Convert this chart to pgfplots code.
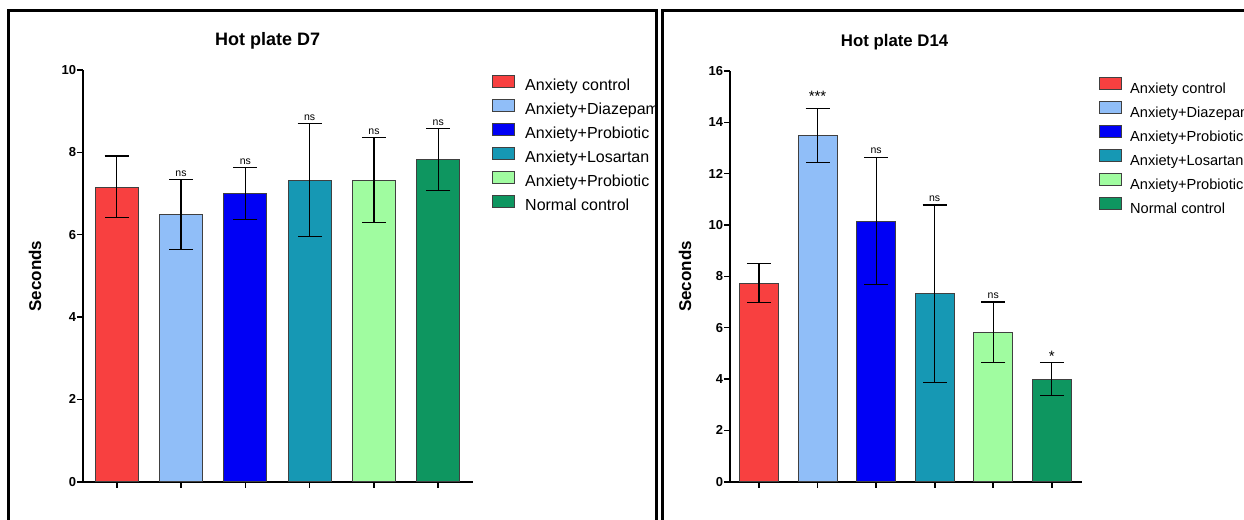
\documentclass[border=0pt]{standalone}
\usepackage{fontspec}
\setmainfont{Liberation Sans}
\usepackage{pgfplots}
\pgfplotsset{compat=1.18}
\definecolor{cRed}{RGB}{248,64,64}
\definecolor{cLBlue}{RGB}{144,190,248}
\definecolor{cBlue}{RGB}{0,0,245}
\definecolor{cTeal}{RGB}{22,152,180}
\definecolor{cLGreen}{RGB}{160,252,160}
\definecolor{cGreen}{RGB}{14,150,96}
\pgfplotsset{
  hpaxis/.style={
    scale only axis, clip=false,
    axis x line=bottom, axis y line=left,
    axis line style={line width=2bp, -},
    tick align=outside, major tick length=6bp,
    every tick/.style={black, line width=1.6bp},
    xtick={0,...,5}, xticklabels={},
    ymin=0,
    /pgf/number format/assume math mode=true,
    tick label style={font=\fontsize{13bp}{15bp}\selectfont\bfseries},
    yticklabel style={inner sep=0.8bp},
    ylabel={Seconds},
    ylabel style={font=\fontsize{17bp}{20bp}\selectfont\bfseries, anchor=center},
    title style={font=\fontsize{18bp}{21bp}\selectfont\bfseries, anchor=base, yshift=0pt},
    legend cell align=left,
    legend style={draw=none, fill=none, anchor=north west, inner sep=0pt, outer sep=0pt,
      font=\fontsize{16bp}{19bp}\selectfont,
      row sep=4bp, column sep=10.5bp,
      nodes={inner sep=0pt, text height=12bp, text depth=4bp}},
  },
  bx/.style={ybar, bar width=#1, draw=black!75, line width=0.8bp,
    legend image code/.code={\draw[##1, line width=1bp] (0bp,-0.5bp) rectangle (22bp,11.5bp);},
    /pgfplots/error bars/y dir=both, /pgfplots/error bars/y explicit,
    /pgfplots/error bars/error bar style={black, line width=1.1bp},
    /pgfplots/error bars/error mark options={black, line width=1.1bp, mark size=12bp, rotate=90}},
}
\tikzset{
  ns/.style={font=\fontsize{10.5bp}{12bp}\selectfont, anchor=base, yshift=3.3bp},
  st/.style={font=\fontsize{15bp}{17bp}\selectfont, anchor=base, yshift=#1},
}
\begin{document}
\begin{tikzpicture}
\useasboundingbox (0,0) rectangle (1244bp,520bp);
% ---------- left panel ----------
\begin{scope}
\clip (0,0) rectangle (655bp,520bp);
\begin{axis}[hpaxis,
  at={(83bp,38.3bp)}, anchor=south west,
  width=389.7bp, height=411.7bp,
  xmin=-0.524, xmax=5.535, ymax=10, ytick={0,2,4,6,8,10},
  title={Hot plate D7},
  title style={at={(axis description cs:0.474,1.046)}},
  ylabel style={at={(axis description cs:-0.123,0.4996)}},
  legend style={at={(axis description cs:1.0488,0.988)}},
]
\addplot[bx=43bp, fill=cRed]    coordinates {(0,7.16) +- (0,0.75)};
\addplot[bx=43bp, fill=cLBlue]  coordinates {(1,6.49) +- (0,0.84)};
\addplot[bx=43bp, fill=cBlue]   coordinates {(2,7.00) +- (0,0.63)};
\addplot[bx=43bp, fill=cTeal]   coordinates {(3,7.33) +- (0,1.37)};
\addplot[bx=43bp, fill=cLGreen] coordinates {(4,7.33) +- (0,1.03)};
\addplot[bx=43bp, fill=cGreen]  coordinates {(5,7.83) +- (0,0.75)};
\legend{Anxiety control, Anxiety+Diazepam, Anxiety+Probiotic, Anxiety+Losartan, Anxiety+Probiotic, Normal control}
\node[ns] at (axis cs:1,7.33) {ns};
\node[ns] at (axis cs:2,7.63) {ns};
\node[ns] at (axis cs:3,8.70) {ns};
\node[ns] at (axis cs:4,8.36) {ns};
\node[ns] at (axis cs:5,8.58) {ns};
\end{axis}
\end{scope}
% ---------- right panel ----------
\begin{scope}
\clip (660bp,0) rectangle (1244bp,520bp);
\begin{axis}[hpaxis,
  at={(730bp,38.3bp)}, anchor=south west,
  width=351.7bp, height=410.7bp,
  xmin=-0.495, xmax=5.51, ymax=16, ytick={0,2,4,6,8,10,12,14,16},
  title={Hot plate D14},
  title style={at={(axis description cs:0.468,1.046)}, font=\fontsize{16.8bp}{20bp}\selectfont\bfseries},
  ylabel style={at={(axis description cs:-0.128,0.4996)}},
  legend style={at={(axis description cs:1.048,0.985)}, column sep=8.6bp,
    font=\fontsize{14.6bp}{17bp}\selectfont},
]
\addplot[bx=39bp, fill=cRed]    coordinates {(0,7.74) +- (0,0.76)};
\addplot[bx=39bp, fill=cLBlue]  coordinates {(1,13.48) +- (0,1.05)};
\addplot[bx=39bp, fill=cBlue]   coordinates {(2,10.16) +- (0,2.48)};
\addplot[bx=39bp, fill=cTeal]   coordinates {(3,7.33) +- (0,3.45)};
\addplot[bx=39bp, fill=cLGreen] coordinates {(4,5.82) +- (0,1.18)};
\addplot[bx=39bp, fill=cGreen]  coordinates {(5,4.00) +- (0,0.63)};
\legend{Anxiety control, Anxiety+Diazepam, Anxiety+Probiotic, Anxiety+Losartan, Anxiety+Probiotic, Normal control}
\node[st=7bp] at (axis cs:1,14.53) {***};
\node[ns] at (axis cs:2,12.64) {ns};
\node[ns] at (axis cs:3,10.78) {ns};
\node[ns] at (axis cs:4,7.00) {ns};
\node[st=1.5bp] at (axis cs:5,4.63) {*};
\end{axis}
\end{scope}
% panel frames
\draw[line width=3bp] (8.5bp,-5bp) -- (8.5bp,509bp) -- (656.5bp,509bp) -- (656.5bp,-5bp);
\draw[line width=3bp] (662.5bp,-5bp) -- (662.5bp,509bp) -- (1250bp,509bp);
\end{tikzpicture}
\end{document}
